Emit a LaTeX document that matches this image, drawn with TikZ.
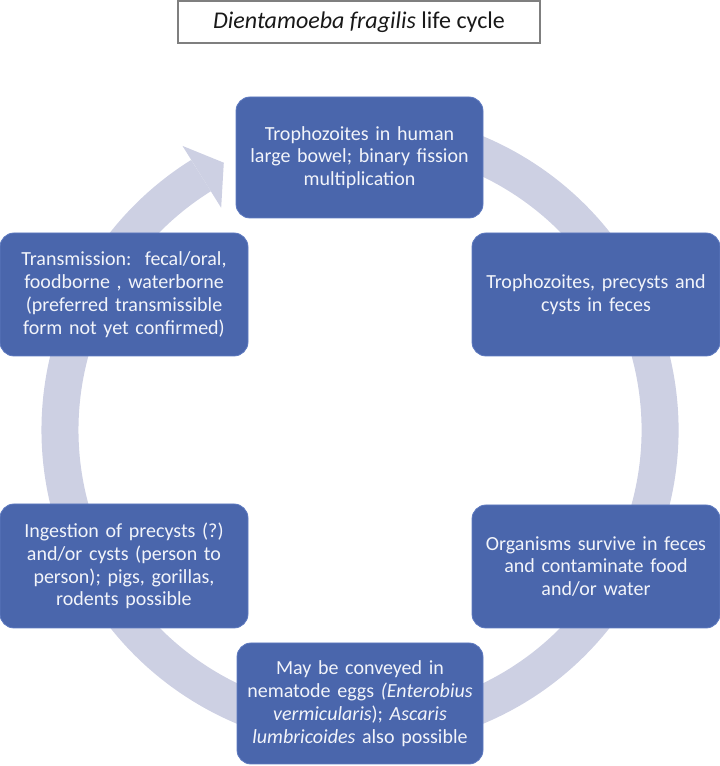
\documentclass[tikz,border=0pt]{standalone}
\usepackage{fontspec}
\setmainfont{Carlito}
\definecolor{boxblue}{HTML}{4A66AC}
\definecolor{boxedge}{HTML}{5E7AC0}
\definecolor{ringc}{HTML}{CDD0E3}
\definecolor{txt}{HTML}{F2F4FA}
\definecolor{titleedge}{HTML}{7F7F7F}
\begin{document}
\begin{tikzpicture}[x=1pt,y=1pt,
  stagebox/.style={draw=boxedge, line width=0.8pt, fill=boxblue, rounded corners=14pt,
    text=txt, align=center, font=\fontsize{20}{22.8}\selectfont,
    minimum width=247pt, minimum height=122pt, inner sep=0pt, text width=240pt},
  titlebox/.style={draw=titleedge, line width=1.1pt, fill=white, text=black!90,
    font=\fontsize{24}{28}\selectfont, minimum width=362pt, minimum height=42pt, inner sep=0pt},
  ringline/.style={ringc, line width=37pt}
]
\useasboundingbox (0,0) rectangle (720,766);
\coordinate (c) at (360,336);
% ring
\draw[ringline] ([shift={(108:300)}]c) arc[start angle=108, end angle=-238, radius=300];
\fill[ringc] ([shift={(122:262)}]c) -- ([shift={(117:300)}]c) -- ([shift={(122:335)}]c) -- cycle;
% title
\node[titlebox] (title) at (359,744) {\textit{Dientamoeba fragilis} life cycle};
% stages
\node[stagebox, minimum width=247pt, minimum height=121pt] (top) at (359.5,608.5)
  {Trophozoites in human\\large bowel; binary fission\\multiplication};
\node[stagebox, minimum width=248pt, minimum height=123pt] (rt) at (596,471.5)
  {Trophozoites, precysts and\\cysts in feces};
\node[stagebox, minimum width=248pt, minimum height=123pt] (rb) at (596,199.5)
  {Organisms survive in feces\\and contaminate food\\and/or water};
\node[stagebox, minimum width=246pt, minimum height=121pt] (bot) at (360,62.5)
  {May be conveyed in\\nematode eggs \textit{(Enterobius}\\\textit{vermicularis}); \textit{Ascaris}\\\textit{lumbricoides} also possible};
\node[stagebox, minimum width=248pt, minimum height=124pt] (lb) at (124,200)
  {Ingestion of precysts (?)\\and/or cysts (person to\\person); pigs, gorillas,\\rodents possible};
\node[stagebox, minimum width=248pt, minimum height=123pt] (lt) at (124,471.5)
  {Transmission:\ \ fecal/oral,\\foodborne , waterborne\\(preferred transmissible\\form not yet confirmed)};
\end{tikzpicture}
\end{document}
